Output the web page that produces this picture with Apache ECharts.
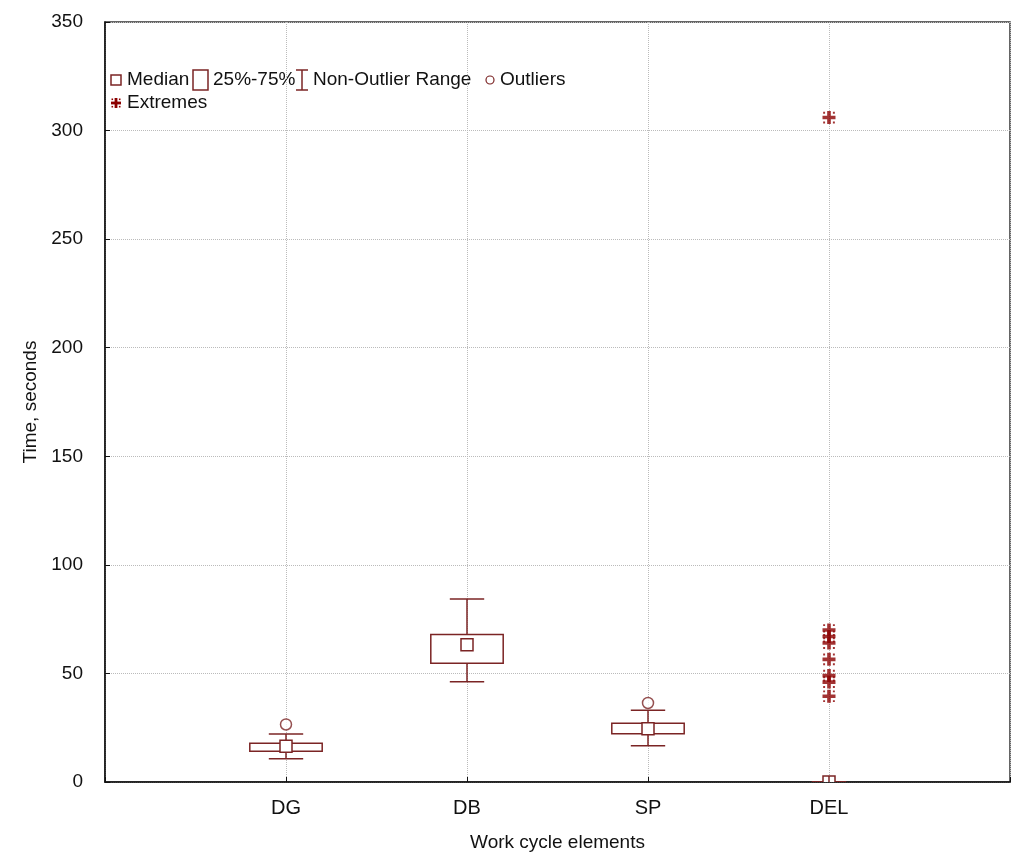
<!DOCTYPE html>
<html>
<head>
<meta charset="utf-8">
<script src="https://cdn.jsdelivr.net/npm/echarts@6/dist/echarts.min.js"></script>
<style>
html,body{margin:0;padding:0;background:#fff;}
#main{width:1013px;height:857px;}
</style>
</head>
<body>
<div id="main"></div>
<script>
// ---- data ----
const categories = ['DG', 'DB', 'SP', 'DEL'];
const whiskerLow  = [10.7, 46.2, 16.7, 0];
const q1          = [14.2, 54.7, 22.2, 0];
const median      = [16.5, 63.2, 24.5, 0];
const q3          = [17.9, 67.9, 27.1, 0];
const whiskerHigh = [22.1, 84.3, 33.0, 0];
const outlierCat  = ['DG', 'SP'];
const outlierVal  = [26.5, 36.4];
const extremeCat  = ['DEL', 'DEL', 'DEL', 'DEL', 'DEL', 'DEL', 'DEL', 'DEL'];
const extremeVal  = [306, 70, 67, 64, 56.5, 49, 46, 39.5];
const yTicks = [0, 50, 100, 150, 200, 250, 300, 350];

const RED = '#7b2424';
const DARK = '#8b0000';
const FONT = '"Liberation Sans", Arial, sans-serif';

const boxData = categories.map((c, i) => [i + 1, whiskerLow[i], q1[i], median[i], q3[i], whiskerHigh[i]]);
const outData = outlierCat.map((c, i) => [categories.indexOf(c) + 1, outlierVal[i]]);
const extData = extremeCat.map((c, i) => [categories.indexOf(c) + 1, extremeVal[i]]);

const asterisk = 'path://M3.6,0H6.4V3.6H10V6.4H6.4V10H3.6V6.4H0V3.6H3.6Z M0.5,0.5H2V2H0.5Z M8,0.5H9.5V2H8Z M0.5,8H2V9.5H0.5Z M8,8H9.5V9.5H8Z';

function renderBox(params, api) {
  const x = api.value(0);
  const pLow = api.coord([x, api.value(1)]);
  const pQ1 = api.coord([x, api.value(2)]);
  const pMed = api.coord([x, api.value(3)]);
  const pQ3 = api.coord([x, api.value(4)]);
  const pHigh = api.coord([x, api.value(5)]);
  const unit = api.size([1, 0])[0];
  const bw = unit * 0.2;
  const cw = unit * 0.095;
  const ms = 12;
  const cx = pMed[0];
  const st = { stroke: RED, lineWidth: 1.5, fill: null };
  const flat = api.value(4) - api.value(2) === 0;
  return {
    type: 'group',
    children: [
      { type: 'line', shape: { x1: cx, y1: pHigh[1], x2: cx, y2: pQ3[1] }, style: st },
      { type: 'line', shape: { x1: cx, y1: pLow[1], x2: cx, y2: pQ1[1] }, style: st },
      { type: 'line', shape: { x1: cx - cw, y1: pHigh[1], x2: cx + cw, y2: pHigh[1] }, style: st },
      { type: 'line', shape: { x1: cx - cw, y1: pLow[1], x2: cx + cw, y2: pLow[1] }, style: st },
      { type: 'rect', shape: { x: cx - bw, y: pQ3[1], width: bw * 2, height: pQ1[1] - pQ3[1] }, style: { stroke: flat ? 'rgba(0,0,0,0)' : RED, lineWidth: 1.5, fill: '#fff' } },
      { type: 'rect', shape: { x: cx - ms / 2, y: pMed[1] - ms / 2, width: ms, height: ms }, style: { stroke: RED, lineWidth: 1.5, fill: '#fff' } },
      { type: 'line', shape: { x1: cx, y1: pMed[1] - ms / 2, x2: cx, y2: pMed[1] + ms / 2 }, style: { stroke: flat ? RED : 'rgba(0,0,0,0)', lineWidth: 1.5 } }
    ]
  };
}

const lx = 111, r1 = 80, r2 = 103;
const legendText = (x, y, t) => ({ type: 'text', x: x, y: y, style: { text: t, font: '19px ' + FONT, fill: '#111', textVerticalAlign: 'middle', verticalAlign: 'middle' } });
const astIcon = (cx, cy) => [
  { type: 'rect', shape: { x: cx - 5, y: cy - 1.4, width: 10, height: 2.8 }, style: { fill: DARK } },
  { type: 'rect', shape: { x: cx - 1.4, y: cy - 5, width: 2.8, height: 10 }, style: { fill: DARK } },
  { type: 'rect', shape: { x: cx - 4.5, y: cy - 4.5, width: 1.6, height: 1.6 }, style: { fill: DARK } },
  { type: 'rect', shape: { x: cx + 2.9, y: cy - 4.5, width: 1.6, height: 1.6 }, style: { fill: DARK } },
  { type: 'rect', shape: { x: cx - 4.5, y: cy + 2.9, width: 1.6, height: 1.6 }, style: { fill: DARK } },
  { type: 'rect', shape: { x: cx + 2.9, y: cy + 2.9, width: 1.6, height: 1.6 }, style: { fill: DARK } }
];

const chart = echarts.init(document.getElementById('main'));
chart.setOption({
  backgroundColor: '#fff',
  animation: false,
  grid: { left: 105, right: 1, top: 22, bottom: 72, show: true, borderColor: '#333', borderWidth: 1.5, containLabel: false },
  xAxis: {
    type: 'value', min: 0, max: 5, interval: 1,
    name: 'Work cycle elements', nameLocation: 'middle', nameGap: 51,
    nameTextStyle: { fontFamily: FONT, fontSize: 19, color: '#111' },
    axisLine: { show: true, onZero: false, lineStyle: { color: '#111', width: 1.5 } },
    axisTick: { show: true, inside: true, length: 5, lineStyle: { color: '#111' } },
    axisLabel: { fontFamily: FONT, fontSize: 20, color: '#111', margin: 16,
      formatter: v => (v >= 1 && v <= categories.length) ? categories[v - 1] : '' },
    splitLine: { show: true, lineStyle: { color: '#bbb', type: 'dotted', width: 1 } }
  },
  yAxis: {
    type: 'value', min: 0, max: 350, interval: 50,
    name: 'Time, seconds', nameLocation: 'middle', nameGap: 65, nameRotate: 90,
    nameTextStyle: { fontFamily: FONT, fontSize: 19, color: '#111' },
    axisLine: { show: true, lineStyle: { color: '#111', width: 1.5 } },
    axisTick: { show: true, inside: true, length: 5, lineStyle: { color: '#111' } },
    axisLabel: { fontFamily: FONT, fontSize: 19, color: '#111', margin: 22,
      formatter: v => yTicks.indexOf(v) >= 0 ? String(v) : '' },
    splitLine: { show: true, lineStyle: { color: '#bbb', type: 'dotted', width: 1 } }
  },
  series: [
    { type: 'custom', name: 'Box', renderItem: renderBox, data: boxData, z: 3, clip: true,
      encode: { x: 0, y: [1, 2, 3, 4, 5] } },
    { type: 'scatter', name: 'Outliers', data: outData, symbol: 'circle', symbolSize: 11,
      itemStyle: { color: '#fff', borderColor: RED, borderWidth: 1.5 }, z: 4 },
    { type: 'scatter', name: 'Extremes', data: extData, symbol: asterisk, symbolSize: 13,
      itemStyle: { color: DARK }, z: 4 }
  ],
  graphic: [
    { type: 'rect', shape: { x: lx, y: r1 - 5, width: 10, height: 10 }, style: { stroke: RED, lineWidth: 1.5, fill: '#fff' } },
    legendText(127, r1, 'Median'),
    { type: 'rect', shape: { x: 193, y: r1 - 10, width: 15, height: 20 }, style: { stroke: RED, lineWidth: 1.5, fill: '#fff' } },
    legendText(213, r1, '25%-75%'),
    { type: 'polyline', shape: { points: [[296, r1 - 10], [308, r1 - 10]] }, style: { stroke: RED, lineWidth: 1.5 } },
    { type: 'polyline', shape: { points: [[302, r1 - 10], [302, r1 + 10]] }, style: { stroke: RED, lineWidth: 1.5 } },
    { type: 'polyline', shape: { points: [[296, r1 + 10], [308, r1 + 10]] }, style: { stroke: RED, lineWidth: 1.5 } },
    legendText(313, r1, 'Non-Outlier Range'),
    { type: 'circle', shape: { cx: 490, cy: r1, r: 4 }, style: { stroke: RED, lineWidth: 1.2, fill: '#fff' } },
    legendText(500, r1, 'Outliers'),
    ...astIcon(lx + 5, r2),
    legendText(127, r2, 'Extremes')
  ]
});
</script>
</body>
</html>
